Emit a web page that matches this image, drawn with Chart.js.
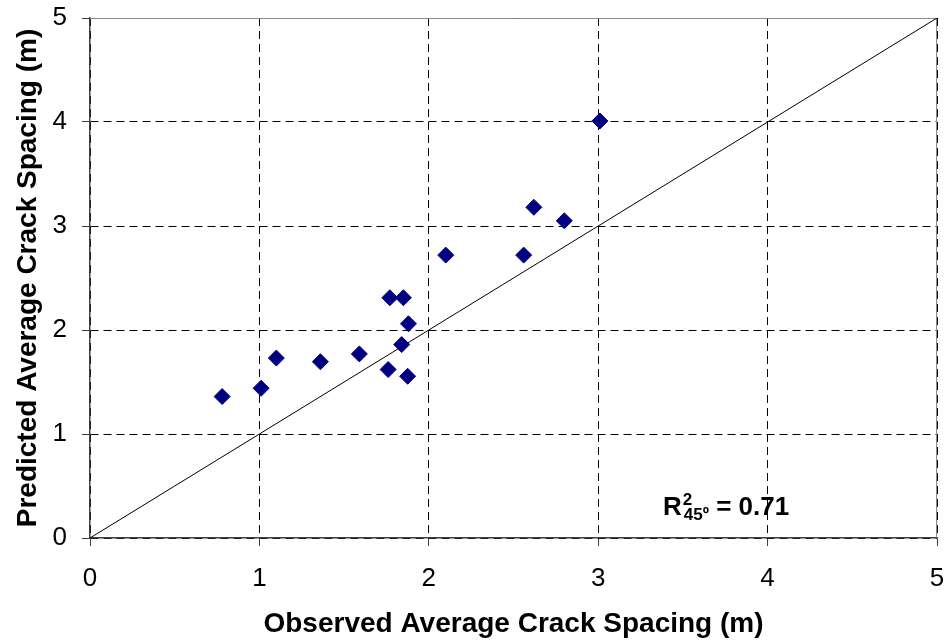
<!DOCTYPE html>
<html lang="en">
  <head>
    <meta charset="UTF-8" />
    <title>Crack spacing</title>
    <script src="https://cdn.jsdelivr.net/npm/chart.js"></script>
    <style>
      html, body { margin: 0; padding: 0; background: #fff; }
      #wrap { width: 946px; height: 642px; }
    </style>
  </head>
  <body>
    <div id="wrap"><canvas id="crackChart" width="946" height="642"></canvas></div>

    <script>
      // observed vs predicted average crack spacing (m)
      const observed = [0.78, 1.01, 1.10, 1.36, 1.59, 1.77, 1.85, 1.88, 1.84, 1.76, 1.875, 2.10, 2.56, 2.62, 2.80, 3.01];
      const predicted = [1.36, 1.44, 1.73, 1.695, 1.77, 2.31, 2.31, 2.06, 1.86, 1.62, 1.555, 2.72, 2.72, 3.18, 3.05, 4.01];
      const lineX = [0, 5];
      const lineY = [0, 5];
      const xTitle = 'Observed Average Crack Spacing (m)';
      const yTitle = 'Predicted Average Crack Spacing (m)';
      const fitLabel = { main: 'R', sup: '2', sub: '45º', rest: ' = 0.71', x: 3.383, y: 0.22 };

      const FONT = "'Liberation Sans', Arial, sans-serif";

      const frame = {
        id: 'frame',
        beforeDatasetsDraw(chart) {
          const { ctx, chartArea: a } = chart;
          ctx.save();
          ctx.strokeStyle = '#8a8a8a';
          ctx.lineWidth = 1;
          ctx.beginPath();
          ctx.moveTo(a.left, a.top + 0.5);
          ctx.lineTo(a.right - 0.5, a.top + 0.5);
          ctx.lineTo(a.right - 0.5, a.bottom);
          ctx.stroke();
          ctx.restore();
        },
        afterDraw(chart) {
          const { ctx } = chart;
          const px = chart.scales.x.getPixelForValue(fitLabel.x);
          const py = chart.scales.y.getPixelForValue(fitLabel.y);
          ctx.save();
          ctx.fillStyle = '#000';
          ctx.textBaseline = 'alphabetic';
          let x = px;
          ctx.font = 'bold 26px ' + FONT;
          ctx.fillText(fitLabel.main, x, py);
          x += ctx.measureText(fitLabel.main).width + 1;
          ctx.font = 'bold 17px ' + FONT;
          ctx.fillText(fitLabel.sup, x, py - 10);
          ctx.fillText(fitLabel.sub, x + 1, py + 5);
          x += ctx.measureText(fitLabel.sub).width + 1;
          ctx.font = 'bold 26px ' + FONT;
          ctx.fillText(fitLabel.rest, x, py);
          ctx.restore();
        },
      };

      const gridOpts = {
        color: '#000',
        lineWidth: 1,
        tickLength: 8,
        tickColor: '#404040',
      };

      // keep tick-label overhang from shrinking the plot area
      const noPad = (s) => {
        s.paddingTop = 0;
        s.paddingBottom = 0;
        s.paddingLeft = 0;
        s.paddingRight = 0;
      };

      new Chart(document.getElementById('crackChart').getContext('2d'), {
        type: 'scatter',
        data: {
          datasets: [
            {
              label: 'Data',
              data: observed.map((v, i) => ({ x: v, y: predicted[i] })),
              pointStyle: 'rectRot',
              pointRadius: 8,
              backgroundColor: '#000080',
              borderColor: '#000080',
              borderWidth: 1,
              order: 1,
            },
            {
              label: '45 degree line',
              type: 'line',
              data: lineX.map((v, i) => ({ x: v, y: lineY[i] })),
              borderColor: '#000',
              borderWidth: 1,
              pointRadius: 0,
              fill: false,
              order: 2,
            },
          ],
        },
        options: {
          responsive: false,
          animation: false,
          layout: { padding: { top: 18, right: 9, left: 0, bottom: 0 } },
          plugins: { legend: { display: false }, tooltip: { enabled: false } },
          scales: {
            x: {
              type: 'linear',
              min: 0,
              max: 5,
              ticks: { stepSize: 1, color: '#000', padding: 17, font: { family: FONT, size: 26 } },
              grid: gridOpts,
              border: { color: '#404040', width: 1.5, dash: [8, 5] },
              title: {
                display: true,
                text: xTitle,
                color: '#000',
                font: { family: FONT, size: 28, weight: 'bold' },
                padding: { top: 0, bottom: 1 },
              },
              afterFit(s) { s.height = 104; noPad(s); },
            },
            y: {
              type: 'linear',
              min: 0,
              max: 5,
              ticks: { stepSize: 1, color: '#000', padding: 15, font: { family: FONT, size: 26 } },
              grid: gridOpts,
              border: { color: '#404040', width: 1.5, dash: [8, 5] },
              title: {
                display: true,
                text: yTitle,
                color: '#000',
                font: { family: FONT, size: 28, weight: 'bold' },
                padding: { top: 11, bottom: 0 },
              },
              afterFit(s) { s.width = 90; noPad(s); },
            },
          },
        },
        plugins: [frame],
      });
    </script>
  </body>
</html>
